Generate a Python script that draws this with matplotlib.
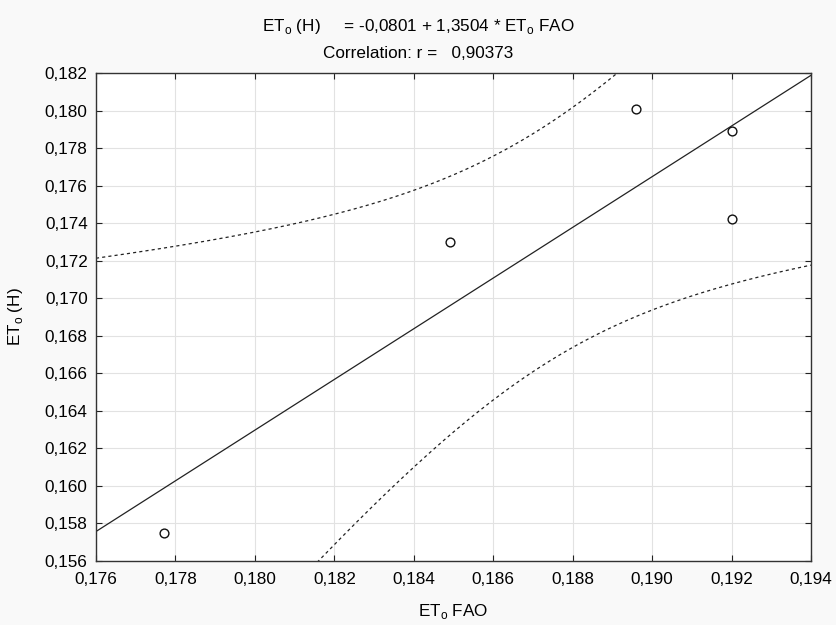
import numpy as np
import matplotlib
matplotlib.use("Agg")
from matplotlib import pyplot as plt
from matplotlib.ticker import FuncFormatter

plt.rcParams['font.family'] = ['Liberation Sans', 'DejaVu Sans']

# data
et_fao = [0.1777, 0.1849, 0.1896, 0.1920, 0.1920]
et_h = [0.1575, 0.1730, 0.1801, 0.1789, 0.1742]
intercept = -0.0801
slope = 1.3504
r_corr = 0.90373
t_crit = 3.182  # t(0.975, df=3)

x = np.array(et_fao)
y = np.array(et_h)
n = len(x)
xm = x.mean()
sxx = ((x - xm) ** 2).sum()
resid = y - (intercept + slope * x)
s = np.sqrt((resid ** 2).sum() / (n - 2))

xx = np.linspace(0.176, 0.194, 300)
yy = intercept + slope * xx
hw = t_crit * s * np.sqrt(1 / n + (xx - xm) ** 2 / sxx)

fs = 12.3
fig = plt.figure(figsize=(8.36, 6.25), dpi=100, facecolor='#f9f9f9')
ax = fig.add_axes([0.1148, 0.1024, 0.8553, 0.7808])
ax.set_facecolor('white')

ax.plot(xx, yy, color='#222222', lw=0.9)
ax.plot(xx, yy + hw, color='#222222', lw=0.9, ls=(0, (2.5, 2.5)))
ax.plot(xx, yy - hw, color='#222222', lw=0.9, ls=(0, (2.5, 2.5)))
ax.scatter(x, y, s=40, facecolors='white', edgecolors='#111111', linewidths=1.0, zorder=3)

ax.set_xlim(0.176, 0.194)
ax.set_ylim(0.156, 0.182)
ax.set_xticks(np.arange(0.176, 0.1941, 0.002))
ax.set_yticks(np.arange(0.156, 0.1821, 0.002))
fmt = FuncFormatter(lambda v, p: f"{v:.3f}".replace('.', ','))
ax.xaxis.set_major_formatter(fmt)
ax.yaxis.set_major_formatter(fmt)
ax.grid(True, color='#e2e2e2', lw=0.8)
ax.set_axisbelow(True)
ax.tick_params(direction='in', length=4.5, top=True, right=True, labelsize=fs,
               colors='#222222', labelcolor='black')
ax.tick_params(axis='x', pad=8)
ax.tick_params(axis='y', pad=6)
for sp in ax.spines.values():
    sp.set_color('#333333')
    sp.set_linewidth(1.0)

ax.set_xlabel(r"ET$_\mathregular{o}$ FAO", fontsize=fs)
ax.set_ylabel(r"ET$_\mathregular{o}$ (H)", fontsize=fs)
ax.xaxis.set_label_coords(0.5, -0.084)
ax.yaxis.set_label_coords(-0.0993, 0.5)

fig.text(0.5, 0.958, r"ET$_\mathregular{o}$ (H)     = -0,0801 + 1,3504 * ET$_\mathregular{o}$ FAO",
         ha='center', va='center', fontsize=fs)
fig.text(0.5, 0.914, "Correlation: r =   " + f"{r_corr:.5f}".replace('.', ','),
         ha='center', va='center', fontsize=fs)

fig.savefig("out.png", dpi=100, facecolor=fig.get_facecolor())
